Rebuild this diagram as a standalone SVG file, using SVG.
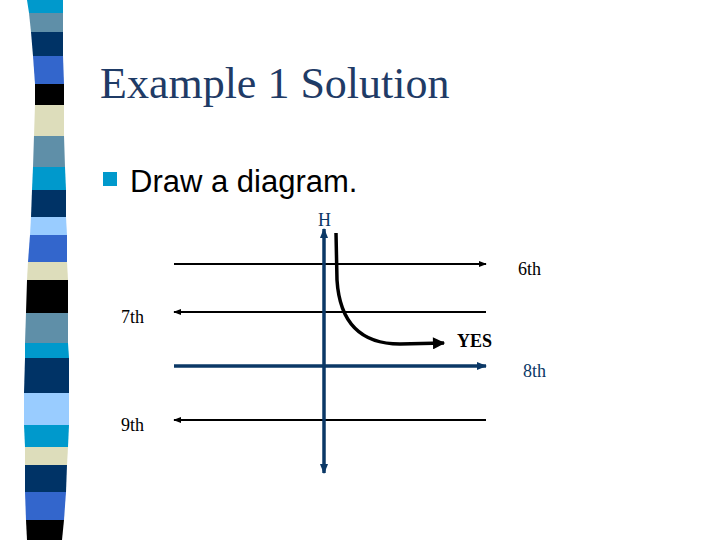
<svg xmlns="http://www.w3.org/2000/svg" width="720" height="540" viewBox="0 0 720 540">
<defs>
<style>
.serif{font-family:"Liberation Serif","Times New Roman",serif}
.thin{stroke:#000;stroke-width:2;fill:none}
.blue{stroke:#0B3866;stroke-width:3.5;fill:none}
.lbl{font-size:18px;fill:#000}
</style>
<marker id="ak" viewBox="0 0 10 10" refX="9" refY="5" markerWidth="4" markerHeight="4" orient="auto-start-reverse" markerUnits="strokeWidth"><path d="M0,1 L10,5 L0,9 Z" fill="#000"/></marker>
<marker id="ab" viewBox="0 0 10 10" refX="9" refY="5" markerWidth="3" markerHeight="3" orient="auto-start-reverse" markerUnits="strokeWidth"><path d="M0,1 L10,5 L0,9 Z" fill="#0B3866"/></marker>
<marker id="ac" viewBox="0 0 10 10" refX="9" refY="5" markerWidth="4" markerHeight="3.5" orient="auto" markerUnits="strokeWidth"><path d="M0,0 L10,5 L0,10 Z" fill="#000"/></marker>
</defs>
<rect width="720" height="540" fill="#fff"/>
<g id="stripes">
<polygon points="27,0 63,0 63,13 29,13" fill="#0099CC"/>
<polygon points="29,13 63,13 63,32 31,32" fill="#5F8FA8"/>
<polygon points="31,32 63,32 63,56 33,56" fill="#003366"/>
<polygon points="33,56 63,56 64,84 35,84" fill="#3366CC"/>
<polygon points="35,84 64,84 64,105 35,105" fill="#000"/>
<polygon points="35,105 64,105 64,136 34,136" fill="#DDDDBB"/>
<polygon points="34,136 64,136 65,167 33,167" fill="#5F8FA8"/>
<polygon points="33,167 65,167 66,190 32,190" fill="#0099CC"/>
<polygon points="32,190 66,190 66,217 31,217" fill="#003366"/>
<polygon points="31,217 66,217 67,235 30,235" fill="#99CCFF"/>
<polygon points="30,235 67,235 67,262 28,262" fill="#3366CC"/>
<polygon points="28,262 67,262 68,280 27,280" fill="#DDDDBB"/>
<polygon points="27,280 68,280 68,313 26,313" fill="#000"/>
<polygon points="26,313 68,313 68,343 25,343" fill="#5F8FA8"/>
<polygon points="25,343 68,343 69,358 25,358" fill="#0099CC"/>
<polygon points="25,358 69,358 69,393 24,393" fill="#003366"/>
<polygon points="24,393 69,393 69,425 24,425" fill="#99CCFF"/>
<polygon points="24,425 69,425 68,447 25,447" fill="#0099CC"/>
<polygon points="25,447 68,447 67,465 25,465" fill="#DDDDBB"/>
<polygon points="25,465 67,465 66,492 25,492" fill="#003366"/>
<polygon points="25,492 66,492 64,520 26,520" fill="#3366CC"/>
<polygon points="26,520 64,520 62,540 27,540" fill="#000"/>
</g>
<g id="title">
<text x="100" y="98" class="serif" font-size="44" fill="#1F3B66">Example 1 Solution</text>
</g>
<g id="bullet">
<rect x="103" y="172" width="14" height="14" fill="#0099CC"/>
<text x="130" y="192" font-family="'Liberation Sans',Arial,sans-serif" font-size="31" fill="#000">Draw a diagram.</text>
</g>
<g id="connectors">
<line class="thin" x1="174" y1="264" x2="486" y2="264" marker-end="url(#ak)"/>
<line class="thin" x1="486" y1="312" x2="174" y2="312" marker-end="url(#ak)"/>
<line class="blue" x1="174" y1="366" x2="486" y2="366" marker-end="url(#ab)"/>
<line class="thin" x1="486" y1="420" x2="174" y2="420" marker-end="url(#ak)"/>
<line class="blue" x1="324" y1="229" x2="324" y2="473" marker-start="url(#ab)" marker-end="url(#ab)"/>
<path d="M336,233 L337,280 Q341,344 400,344 L444,343" stroke="#000" stroke-width="3.5" fill="none" marker-end="url(#ac)"/>
</g>
<g id="labels">
<text x="318" y="226" class="serif" font-size="18" fill="#0B3866">H</text>
<text x="518" y="275" class="serif lbl">6th</text>
<text x="121" y="323" class="serif lbl">7th</text>
<text x="457" y="347" class="serif lbl" font-weight="bold">YES</text>
<text x="523" y="377" class="serif lbl" style="fill:#0B3866">8th</text>
<text x="121" y="431" class="serif lbl">9th</text>
</g>
</svg>
